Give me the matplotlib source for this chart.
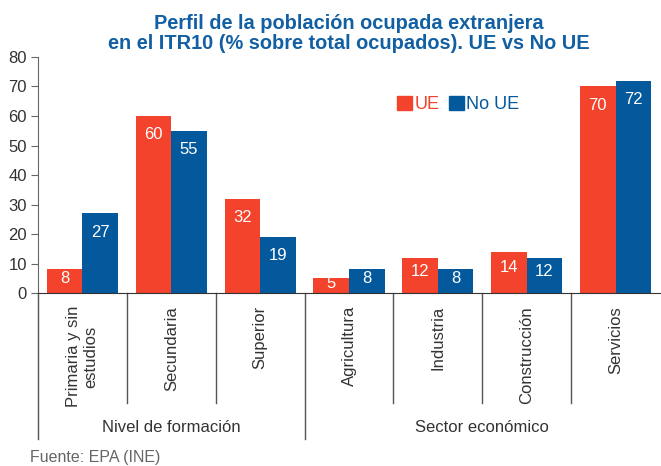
#!/usr/bin/env python3
"""Perfil de la población ocupada extranjera en el ITR10, UE vs No UE."""

import matplotlib
matplotlib.use('Agg')
import matplotlib.pyplot as plt
from matplotlib.patches import Patch
import numpy as np

plt.rcParams['font.family'] = ['Liberation Sans', 'DejaVu Sans']

categories = ['Primaria y sin\nestudios', 'Secundaria', 'Superior',
              'Agricultura', 'Industria', 'Construcción', 'Servicios']
groups = ['Nivel de formación', 'Sector económico']
group_sizes = [3, 4]
ue = [8, 60, 32, 5, 12, 14, 70]
no_ue = [27, 55, 19, 8, 8, 12, 72]

red = '#f3432c'
blue = '#03599c'
title_color = '#1260a3'

fig = plt.figure(figsize=(6.61, 4.66), dpi=100)
ax = fig.add_axes([0.0575, 0.3712, 0.941, 0.5065])

x = np.arange(len(categories))
bw = 0.4
ax.bar(x + 0.3, ue, bw, color=red, linewidth=0)
ax.bar(x + 0.7, no_ue, bw, color=blue, linewidth=0)

# value labels, inside near the top of each bar
for xs, vals in ((x + 0.3, ue), (x + 0.7, no_ue)):
    for xi, v in zip(xs, vals):
        yl = max(v - 6.4, 0.62 * v)
        ax.text(xi, yl, f'{v}', ha='center', va='center', color='white', fontsize=12)

ax.set_xlim(0, len(categories))
ax.set_ylim(0, 80)
ax.set_yticks(np.arange(0, 81, 10))
ax.tick_params(axis='y', direction='out', length=5, color='#666666',
               labelsize=12, labelcolor='#333333', pad=3)
ax.set_xticks([])
for s in ('top', 'right'):
    ax.spines[s].set_visible(False)
ax.spines['left'].set_color('#666666')
ax.spines['bottom'].set_color('#333333')

# category separators and labels below the axis
trans = ax.get_xaxis_transform()
bounds = np.cumsum([0] + group_sizes)
for i in range(len(categories)):
    if i in bounds:
        continue
    ax.plot([i, i], [0, -0.466], transform=trans, color='#555555', lw=1, clip_on=False)
for b in bounds[:-1]:
    ax.plot([b, b], [0, -0.619], transform=trans, color='#555555', lw=1, clip_on=False)
for i, c in enumerate(categories):
    ax.text(i + 0.5, -0.055, c, transform=trans, rotation=90, ha='center', va='top',
            multialignment='center', fontsize=12, color='#333333')
for g, start, n in zip(groups, bounds[:-1], group_sizes):
    ax.text(start + n / 2, -0.568, g, transform=trans, ha='center', va='center',
            fontsize=12, color='#333333')

# legend
handles = [Patch(color=red, label='UE'), Patch(color=blue, label='No UE')]
ax.legend(handles=handles, loc='center left', bbox_to_anchor=(0.563, 0.797),
          ncol=2, frameon=False, fontsize=13, labelcolor=[red, blue],
          borderpad=0, handlelength=0.8, handleheight=0.8,
          handletextpad=0.15, columnspacing=0.55)

fig.text(0.528, 0.928, 'Perfil de la población ocupada extranjera\n'
         'en el ITR10 (% sobre total ocupados). UE vs No UE',
         ha='center', va='center', fontsize=14.4, fontweight='bold',
         color=title_color, linespacing=1.08)

fig.text(0.045, 0.019, 'Fuente: EPA (INE)', ha='left', va='center',
         fontsize=11.5, color='#666666')

fig.savefig('out.png', dpi=100)
